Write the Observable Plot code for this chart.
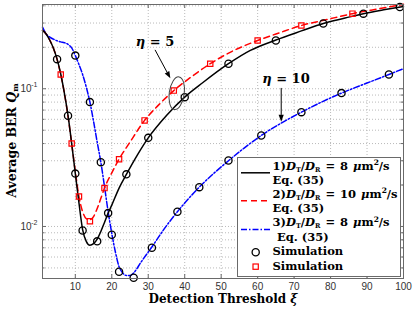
<!DOCTYPE html>
<html><head><meta charset="utf-8">
<script src="https://cdn.jsdelivr.net/npm/d3@7"></script>
<script src="https://cdn.jsdelivr.net/npm/@observablehq/plot@0.6"></script>
<style>html,body{margin:0;padding:0;background:#fff;overflow:hidden;}</style>
</head><body><div id="chart"></div>
<script>
// ---- data ----
const xTicks = [10, 20, 30, 40, 50, 60, 70, 80, 90, 100];
const xGrid = [10, 20, 30, 40, 50, 60, 70, 80, 90];
const yMajor = [0.01, 0.1];
const yMajorBase = "10";
const yMajorExp = ["-2", "-1"];
const yMinor = [0.005, 0.006, 0.007, 0.008, 0.009, 0.02, 0.03, 0.04, 0.05, 0.06, 0.07, 0.08, 0.09, 0.2, 0.3, 0.4];

// Curve 1: D_T/D_R = 8 (black solid, Eq. 35)
const curve1X = [1, 2, 3, 4, 5, 6, 7, 8, 9, 10, 11, 12, 13, 14, 15, 16, 17, 18, 19, 20, 22, 24, 27, 30, 35, 40, 45, 52, 58, 65, 72, 78, 84, 89, 95, 100];
const curve1Y = [0.265, 0.25, 0.225, 0.197, 0.164, 0.128, 0.093, 0.064, 0.040, 0.0242, 0.0148, 0.0095, 0.0078, 0.0073, 0.0075, 0.0081, 0.0092, 0.0107, 0.0125, 0.0143, 0.019, 0.0239, 0.033, 0.044, 0.064, 0.087, 0.111, 0.152, 0.19, 0.226, 0.263, 0.298, 0.326, 0.351, 0.376, 0.396];
// Curve 2: D_T/D_R = 10 (red dashed, Eq. 35)
const curve2X = [1, 2, 3, 4, 5, 6, 7, 8, 9, 10, 11, 12, 13, 14, 15, 16, 17, 18, 20, 22, 25, 29, 33, 37, 42, 47, 53, 60, 66, 72, 79, 86, 93, 100];
const curve2Y = [0.265, 0.25, 0.225, 0.197, 0.163, 0.127, 0.093, 0.063, 0.040, 0.025, 0.0165, 0.0128, 0.0114, 0.0112, 0.0118, 0.0135, 0.016, 0.019, 0.0245, 0.0308, 0.041, 0.0589, 0.077, 0.097, 0.123, 0.152, 0.187, 0.224, 0.255, 0.288, 0.318, 0.351, 0.38, 0.41];
// Curve 3: D_T/D_R = 8, eta = 10 (blue dash-dot, Eq. 35)
const curve3X = [1, 2, 3, 4, 5, 6, 7, 8, 9, 10, 11, 12, 13, 14, 15, 16, 17, 18, 19, 20, 21, 22, 23, 24, 25, 26, 28, 31, 34, 38, 44, 52, 61, 72, 83, 90, 96, 100];
const curve3Y = [0.28, 0.25, 0.237, 0.229, 0.223, 0.219, 0.216, 0.21, 0.198, 0.174, 0.15, 0.127, 0.103, 0.080, 0.058, 0.041, 0.0293, 0.0195, 0.0128, 0.0089, 0.0065, 0.0051, 0.0046, 0.0044, 0.0044, 0.0046, 0.0055, 0.0071, 0.0093, 0.0128, 0.0193, 0.030, 0.0458, 0.0676, 0.093, 0.110, 0.127, 0.14];

// Simulation points
const sim1X = [5, 8, 10, 12, 16, 19, 24, 30, 40, 52, 65, 78, 89, 99];
const sim1Y = [0.164, 0.0637, 0.0242, 0.00935, 0.0078, 0.0125, 0.0239, 0.044, 0.0869, 0.152, 0.224, 0.298, 0.351, 0.392];
const sim3X = [10, 14, 17, 20, 22, 26, 31, 38, 44, 52, 61, 72, 83, 96];
const sim3Y = [0.174, 0.080, 0.0293, 0.0087, 0.00469, 0.00424, 0.0070, 0.0128, 0.0193, 0.0301, 0.0458, 0.0676, 0.093, 0.127];
const sim2X = [6, 9, 11, 14, 18, 22, 29, 37, 47, 60, 72, 86];
const sim2Y = [0.127, 0.040, 0.0165, 0.0109, 0.019, 0.0308, 0.0589, 0.097, 0.152, 0.224, 0.288, 0.351];

// Annotations (data coordinates)
const annLabels = ["5", "10"];
const annTextX = [32.0, 67.9];
const annTextY = [0.203, 0.1087];
const annArrowX1 = [32.0, 66.6];
const annArrowY1 = [0.19, 0.1005];
const annArrowX2 = [36.2, 66.6];
const annArrowY2 = [0.118, 0.057];
const ellipseX = 37.95, ellipseY = 0.092;

const legendLabels = [["1)", "8"], ["2)", "10"], ["3)", "8"]];

// ---- layout ----
const W = 415, H = 312, mL = 42, mR = 12, mT = 4, mB = 34;
const pw = W - mL - mR, ph = H - mT - mB;
const zip = (xs, ys) => xs.map((x, i) => ({x, y: ys[i]}));
const gridStyle = {stroke: "#a8a8a8", strokeOpacity: 1, strokeWidth: 0.8, strokeDasharray: "1,2"};
const axisColor = "#6a6a6a";

const plot = Plot.plot({
  width: W, height: H,
  marginLeft: mL, marginRight: mR, marginTop: mT, marginBottom: mB,
  style: {background: "white", fontFamily: "'Liberation Sans', Arial, sans-serif", fontSize: "10px", color: "#262626", overflow: "visible"},
  x: {domain: [1, 100]},
  y: {type: "log", domain: [0.00419, 0.409]},
  marks: [
    Plot.gridX(xGrid, gridStyle),
    Plot.gridY(yMajor.concat(yMinor), gridStyle),
    Plot.axisX(xTicks, {tickSize: 0, tickPadding: 4, label: null, fill: "#333"}),
    Plot.axisY(yMajor, {tickSize: 0, tickPadding: 3, dx: -8, tickFormat: () => yMajorBase, label: null, fill: "#333"}),
    Plot.text(yMajor, {y: d => d, text: (d, i) => yMajorExp[i], frameAnchor: "left", dx: -5, dy: -4, textAnchor: "end", fontSize: 7, fill: "#333"}),
    // inward ticks
    Plot.tickY(yMajor, {y: d => d, insetRight: pw - 4, stroke: axisColor}),
    Plot.tickY(yMajor, {y: d => d, insetLeft: pw - 4, stroke: axisColor}),
    Plot.tickY(yMinor, {y: d => d, insetRight: pw - 2.5, stroke: axisColor}),
    Plot.tickY(yMinor, {y: d => d, insetLeft: pw - 2.5, stroke: axisColor}),
    Plot.tickX(xGrid, {x: d => d, insetTop: ph - 4, stroke: axisColor}),
    Plot.tickX(xGrid, {x: d => d, insetBottom: ph - 4, stroke: axisColor}),
    // curves
    Plot.line(zip(curve3X, curve3Y), {x: "x", y: "y", stroke: "#0000ff", strokeWidth: 1.5, strokeDasharray: "6,2,1.5,2", curve: "monotone-x"}),
    Plot.line(zip(curve2X, curve2Y), {x: "x", y: "y", stroke: "#ff0000", strokeWidth: 1.5, strokeDasharray: "6,4", curve: "monotone-x"}),
    Plot.line(zip(curve1X, curve1Y), {x: "x", y: "y", stroke: "#000", strokeWidth: 1.5, curve: "monotone-x"}),
    // simulations
    Plot.dot(zip(sim2X, sim2Y), {x: "x", y: "y", symbol: "square", r: 3, stroke: "#ff0000", strokeWidth: 1.2, fill: "none"}),
    Plot.dot(zip(sim1X, sim1Y), {x: "x", y: "y", r: 3.6, stroke: "#000", strokeWidth: 1.3, fill: "none"}),
    Plot.dot(zip(sim3X, sim3Y), {x: "x", y: "y", r: 3.6, stroke: "#000", strokeWidth: 1.3, fill: "none"}),
    Plot.frame({stroke: axisColor, strokeWidth: 1})
  ]
});
document.getElementById("chart").appendChild(plot);

const sx = plot.scale("x"), sy = plot.scale("y");
const svg = d3.select(plot);
const serif = "'DejaVu Serif', serif";

// annotations
annLabels.forEach((lab, i) => {
  const t = svg.append("text")
    .attr("x", sx.apply(annTextX[i])).attr("y", sy.apply(annTextY[i]))
    .attr("text-anchor", "middle").attr("font-family", serif).attr("font-weight", "bold").attr("font-size", 13).attr("fill", "#000");
  t.append("tspan").attr("font-style", "italic").text("η");
  t.append("tspan").text(" = " + lab);
  const x1 = sx.apply(annArrowX1[i]), y1 = sy.apply(annArrowY1[i]);
  const x2 = sx.apply(annArrowX2[i]), y2 = sy.apply(annArrowY2[i]);
  const dx = x2 - x1, dy = y2 - y1, L = Math.hypot(dx, dy), ux = dx / L, uy = dy / L;
  const hl = 7, hw = 2.6;
  const bx = x2 - ux * hl, by = y2 - uy * hl;
  svg.append("line").attr("x1", x1).attr("y1", y1).attr("x2", bx).attr("y2", by).attr("stroke", "#000").attr("stroke-width", 1);
  svg.append("path").attr("d", `M${x2},${y2}L${bx - uy * hw},${by + ux * hw}L${bx + uy * hw},${by - ux * hw}Z`).attr("fill", "#000");
});
svg.append("ellipse")
  .attr("cx", sx.apply(ellipseX)).attr("cy", sy.apply(ellipseY))
  .attr("rx", 7.5).attr("ry", 16.5).attr("fill", "none").attr("stroke", "#444").attr("stroke-width", 1)
  .attr("transform", `rotate(8 ${sx.apply(ellipseX)} ${sy.apply(ellipseY)})`);

// legend
const lg = svg.append("g").attr("font-family", serif).attr("font-weight", "bold").attr("font-size", 11.5).attr("fill", "#000").attr("text-anchor", "start");
lg.append("rect").attr("x", 237.5).attr("y", 157.5).attr("width", 163).attr("height", 119).attr("fill", "#fff").attr("stroke", axisColor).attr("stroke-width", 1);
const rowY = [169.5, 197.5, 226.3];
const lineStyles = [{c: "#000", d: null}, {c: "#ff0000", d: "6,4"}, {c: "#0000ff", d: "6,2,1.5,2"}];
legendLabels.forEach((lab, i) => {
  const ly = rowY[i] + 3.3;
  const ln = lg.append("line").attr("x1", 241).attr("x2", 270).attr("y1", ly).attr("y2", ly).attr("stroke", lineStyles[i].c).attr("stroke-width", 1.5);
  if (lineStyles[i].d) ln.attr("stroke-dasharray", lineStyles[i].d);
  const t = lg.append("text").attr("x", 272.5).attr("y", rowY[i]).attr("text-anchor", "start");
  t.append("tspan").text(lab[0]);
  t.append("tspan").attr("font-style", "italic").text("D");
  t.append("tspan").attr("font-size", 6.5).attr("dy", 2).text("T");
  t.append("tspan").attr("dy", -2).text("/");
  t.append("tspan").attr("font-style", "italic").text("D");
  t.append("tspan").attr("font-size", 6.5).attr("dy", 2).text("R");
  t.append("tspan").attr("dy", -2).attr("dx", 1).text(" =");
  t.append("tspan").attr("dx", 1).text(" " + lab[1] + " ");
  t.append("tspan").attr("dx", 1).attr("font-style", "italic").text("μ");
  t.append("tspan").text("m");
  t.append("tspan").attr("font-size", 7.5).attr("dy", -4.5).text("2");
  t.append("tspan").attr("dy", 4.5).text("/s");
  lg.append("text").attr("x", i === 2 ? 277 : 272.5).attr("y", rowY[i] + 14.8).attr("text-anchor", "start").text("Eq. (35)");
});
lg.append("circle").attr("cx", 255.7).attr("cy", 252.3).attr("r", 3.6).attr("fill", "none").attr("stroke", "#000").attr("stroke-width", 1.3);
lg.append("rect").attr("x", 253).attr("y", 264).attr("width", 5.3).attr("height", 5.3).attr("fill", "none").attr("stroke", "#ff0000").attr("stroke-width", 1.2);
lg.append("text").attr("x", 272.5).attr("y", 255.2).attr("text-anchor", "start").text("Simulation");
lg.append("text").attr("x", 272.5).attr("y", 269.5).attr("text-anchor", "start").text("Simulation");

// axis labels
const xl = svg.append("text").attr("x", 223).attr("y", 303).attr("text-anchor", "middle")
  .attr("font-family", serif).attr("font-weight", "bold").attr("font-size", 12).attr("fill", "#000");
xl.append("tspan").text("Detection Threshold ");
xl.append("tspan").attr("font-style", "italic").text("ξ");
const yl = svg.append("text").attr("transform", "translate(15.5,140.5) rotate(-90)").attr("text-anchor", "middle")
  .attr("font-family", serif).attr("font-weight", "bold").attr("font-size", 12.5).attr("fill", "#000");
yl.append("tspan").text("Average BER ");
yl.append("tspan").attr("font-style", "italic").text("Q");
yl.append("tspan").attr("font-size", 8).attr("dy", 2.5).text("m");
</script>
</body></html>
